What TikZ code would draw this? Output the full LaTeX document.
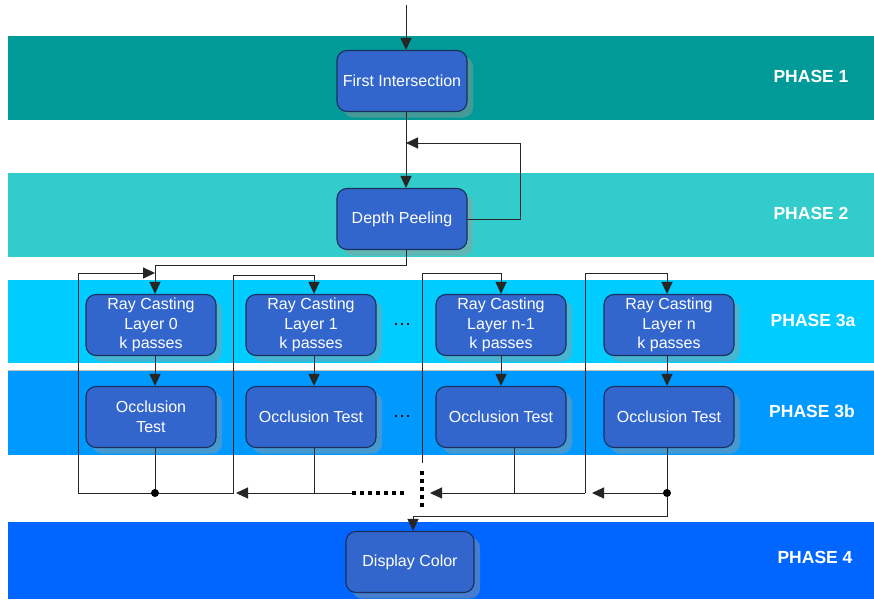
\documentclass[tikz,border=0pt]{standalone}
\usepackage{fontspec}
\setmainfont{Liberation Sans}
\usetikzlibrary{arrows.meta,shadows,calc}
\definecolor{phA}{HTML}{009B98}
\definecolor{phB}{HTML}{33CCCC}
\definecolor{phC}{HTML}{00CCFF}
\definecolor{phD}{HTML}{0099FF}
\definecolor{phE}{HTML}{0066FF}
\definecolor{boxfill}{HTML}{3366CC}
\definecolor{boxline}{HTML}{1A2F5C}
\begin{document}
\begin{tikzpicture}[x=1pt,y=-1pt,
  box/.style={draw=boxline, line width=1.1pt, fill=boxfill, rounded corners=10pt,
    minimum width=130pt, minimum height=61pt, text=white, align=center,
    font=\fontsize{16}{19.5}\selectfont, inner sep=2pt,
    drop shadow={shadow xshift=6pt, shadow yshift=-6pt, fill=gray!80, opacity=0.45}},
  phase/.style={text=white, font=\fontsize{17.5}{20}\selectfont\bfseries},
  ell/.style={text=black, font=\fontsize{19}{20}\selectfont},
  conn/.style={draw=black!85, line width=1pt},
  arr/.style={conn, -{Triangle[length=12pt,width=11pt]}},
  bigdots/.style={draw=black, line width=3.5pt, dash pattern=on 3.5pt off 4.5pt},
  dot/.style={fill=black}
]
\useasboundingbox (0,0) rectangle (874,599);
\fill[white] (0,0) rectangle (874,599);
% bands
\fill[phA] (8,36) rectangle (874,120);
\fill[phB] (8,173) rectangle (874,257);
\fill[phC] (8,280) rectangle (874,363);
\fill[phD] (8,371) rectangle (874,455);
\fill[phE] (8,522) rectangle (874,599);
\draw[black!25, line width=1pt] (8,370) -- (874,370);
% phase labels
\node[phase] (p1) at (811,76) {PHASE 1};
\node[phase] (p2) at (811,213) {PHASE 2};
\node[phase] (p3a) at (813,320) {PHASE 3a};
\node[phase] (p3b) at (812,411) {PHASE 3b};
\node[phase] (p4) at (815,557) {PHASE 4};
% boxes
\node[box] (fi) at (402,81) {First Intersection};
\node[box] (dp) at (402,219) {Depth Peeling};
\node[box] (rc0) at (151,325) {Ray Casting\\Layer 0\\k passes};
\node[box] (rc1) at (311,325) {Ray Casting\\Layer 1\\k passes};
\node[box] (rc2) at (501,325) {Ray Casting\\Layer n-1\\k passes};
\node[box] (rc3) at (669,325) {Ray Casting\\Layer n\\k passes};
\node[box] (ot0) at (151,417) {Occlusion\\Test};
\node[box] (ot1) at (311,417) {Occlusion Test};
\node[box] (ot2) at (501,417) {Occlusion Test};
\node[box] (ot3) at (669,417) {Occlusion Test};
\node[box, minimum width=128pt] (dc) at (410,562) {Display Color};
\node[ell] (el1) at (402,324) {…};
\node[ell] (el2) at (402,416) {…};
% coordinates
\coordinate (top) at (406,5);
\coordinate (lp) at (520,143);
\coordinate (j0) at (155,265);
\coordinate (L0) at (78,273);
\coordinate (b0) at (155,493);
\coordinate (R1) at (233,275);
\coordinate (a1) at (314,275);
\coordinate (b1) at (314,493);
\coordinate (t1) at (236,493);
\coordinate (d1) at (352,493);
\coordinate (d2) at (408,493);
\coordinate (v2) at (422,463);
\coordinate (v2b) at (422,471);
\coordinate (v2c) at (422,507);
\coordinate (R2) at (422,273);
\coordinate (a2) at (501,273);
\coordinate (b2) at (514,493);
\coordinate (t2) at (430,493);
\coordinate (R3b) at (585,493);
\coordinate (R3) at (585,273);
\coordinate (a3) at (667,273);
\coordinate (b3) at (667,493);
\coordinate (t3) at (592,493);
\coordinate (e3) at (667,516);
\coordinate (f3) at (413,516);
% connectors
\draw[arr] (top) -- (top |- fi.north);
\draw[arr] (top |- fi.south) -- (top |- dp.north);
\draw[arr] (dp.east) -| (lp) -- (top |- lp);
\draw[arr] (top |- dp.south) |- (j0) -- (j0 |- rc0.north);
\draw[arr] (b0) -| (L0) -- (L0 -| j0);
\draw[arr] (b0) -| (R1) -- (a1) -- (a1 |- rc1.north);
\draw[arr] (v2) -- (R2) -- (a2) -- (a2 |- rc2.north);
\draw[arr] (R3b) -- (R3) -- (a3) -- (a3 |- rc3.north);
\draw[arr] (j0 |- rc0.south) -- (j0 |- ot0.north);
\draw[arr] (a1 |- rc1.south) -- (a1 |- ot1.north);
\draw[arr] (a2 |- rc2.south) -- (a2 |- ot2.north);
\draw[arr] (a3 |- rc3.south) -- (a3 |- ot3.north);
\draw[conn] (j0 |- ot0.south) -- (b0);
\draw[conn] (b1 |- ot1.south) -- (b1);
\draw[arr] (d1) -- (t1);
\draw[bigdots] (d1) -- (d2);
\draw[bigdots] (v2b) -- (v2c);
\draw[conn] (b2 |- ot2.south) -- (b2);
\draw[arr] (R3b) -- (t2);
\draw[conn] (b3 |- ot3.south) -- (b3);
\draw[arr] (b3) -- (t3);
\draw[arr] (b3) -- (e3) -- (f3) -- (f3 |- dc.north);
\fill[dot] (b0) circle (4);
\fill[dot] (b3) circle (4);
\end{tikzpicture}
\end{document}
